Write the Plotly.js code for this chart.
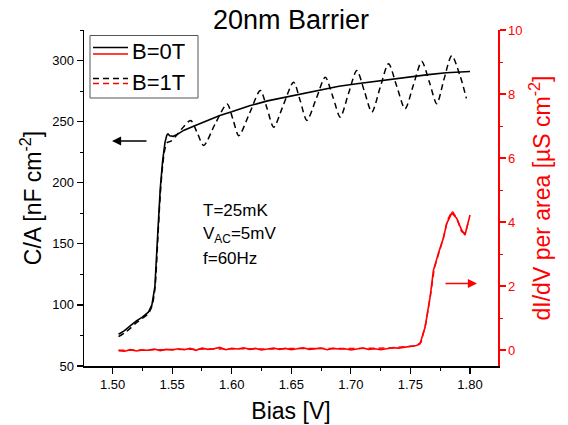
<!DOCTYPE html>
<html>
<head>
<meta charset="utf-8">
<script src="https://cdn.plot.ly/plotly-3.0.1.min.js"></script>
<style>html,body{margin:0;padding:0;background:#fff}#plot{width:568px;height:425px}</style>
</head>
<body>
<div id="plot"></div>
<script>
// C/A, B = 0 T (solid black)
var biasC0 = [1.505,1.510,1.515,1.520,1.525,1.530,1.533,1.5355,1.538,1.540,1.542,1.544,1.5455,1.5465,1.548,1.551,1.555,1.560,1.570,1.580,1.590,1.600,1.615,1.630,1.645,1.660,1.675,1.690,1.705,1.720,1.735,1.750,1.765,1.780,1.790,1.800];
var capC0  = [76,79,83,87,90,94,100,115,160,195,218,233,239,240,238.5,238,240,243,247,251,255,258,263,267,270,273,276,279,281,283,285,287,288.5,290,290.5,291];

// C/A, B = 1 T (dashed black)
var biasC1 = [1.505,1.510,1.515,1.520,1.525,1.530,1.533,1.5355,1.538,1.540,1.542,1.544,1.546,1.549,1.553,1.558,1.5655,1.571,1.5765,1.586,1.5961,1.601,1.6059,1.615,1.624,1.6296,1.6352,1.6435,1.6519,1.6575,1.6631,1.671,1.6785,1.685,1.6911,1.698,1.705,1.7113,1.7176,1.7246,1.7316,1.7385,1.7455,1.7525,1.7595,1.766,1.7721,1.778,1.7847,1.7915,1.797];
var capC1  = [74,77,81,85.5,89,93,99,113,155,190,214,228,233,234,238,244,251,241,230.5,248,264.5,252,238.5,257,275.5,261,245.5,264,282.3,267,251,269,286.4,270,253.7,273,291.8,275,257.8,278,297.3,279,260.5,280,299.2,282,264.6,284,304,288,269];

// dI/dV per area, B = 0 T (solid red)
var biasG0 = [1.505,1.510,1.515,1.520,1.525,1.530,1.535,1.540,1.545,1.550,
              1.555,1.560,1.565,1.570,1.575,1.580,1.585,1.590,1.595,1.600,
              1.605,1.610,1.615,1.620,1.625,1.630,1.635,1.640,1.645,1.650,
              1.655,1.660,1.665,1.670,1.675,1.680,1.685,1.690,1.695,1.700,
              1.705,1.710,1.715,1.720,1.725,1.730,1.735,1.740,1.745,1.750,
              1.755,1.758,1.7623,1.7665,1.7693,1.7735,1.7776,1.7805,1.7847,1.7888,1.793,1.7958,1.7986,1.800];
var condG0 = [-0.02,-0.04,0.01,-0.03,0.00,-0.01,0.03,-0.02,0.02,0.00,
              0.04,0.01,0.05,-0.01,0.06,0.02,0.04,0.08,0.01,0.05,
              0.03,0.07,0.02,0.05,0.00,0.04,0.06,0.02,0.05,0.01,
              0.04,0.07,0.02,0.03,0.06,0.01,0.05,0.03,0.04,0.00,
              0.03,0.06,0.02,0.04,0.01,0.05,0.07,0.06,0.09,0.10,
              0.14,0.19,0.71,1.65,2.49,3.02,3.49,3.96,4.28,4.12,3.75,3.59,3.96,4.22];

// dI/dV per area, B = 1 T (dashed red)
var biasG1 = [1.505,1.530,1.555,1.580,1.605,1.630,1.655,1.680,1.705,1.730,1.755,1.759,1.763,1.767,1.770,1.774,1.778,1.781,1.785,1.789,1.793,1.796,1.799];
var condG1 = [-0.01,0.01,0.02,0.03,0.04,0.03,0.05,0.04,0.05,0.06,0.13,0.25,0.85,1.75,2.55,3.05,3.55,4.05,4.35,4.1,3.7,3.65,4.05];

var F = 'Arial, "Liberation Sans", sans-serif';

var traces = [
  {x: biasC0, y: capC0, type: 'scatter', mode: 'lines', line: {color: '#000', width: 1.6}, yaxis: 'y', showlegend: false, name: 'B=0T'},
  {x: biasC1, y: capC1, type: 'scatter', mode: 'lines', line: {color: '#000', width: 1.5, dash: '6px,4px', shape: 'spline', smoothing: 0.8}, yaxis: 'y', showlegend: false, name: 'B=1T'},
  {x: biasG1, y: condG1, type: 'scatter', mode: 'lines', line: {color: '#ff0000', width: 1.5, dash: '6px,4px'}, yaxis: 'y2', showlegend: false, name: 'B=1T'},
  {x: biasG0, y: condG0, type: 'scatter', mode: 'lines', line: {color: '#ff0000', width: 1.6}, yaxis: 'y2', showlegend: false, name: 'B=0T'}
];

function px(x){ return (x-84)/414; }
function py(y){ return (366-y)/336; }

var shapes = [
  {type:'rect', xref:'paper', yref:'paper', x0:px(90), x1:px(198), y0:py(98), y1:py(35.5), line:{color:'#555', width:1}, fillcolor:'rgba(255,255,255,0)'},
  {type:'line', xref:'paper', yref:'paper', x0:px(93), x1:px(128), y0:py(47.5), y1:py(47.5), line:{color:'#000', width:1.6}},
  {type:'line', xref:'paper', yref:'paper', x0:px(93), x1:px(128), y0:py(54), y1:py(54), line:{color:'#ff0000', width:1.6}},
  {type:'line', xref:'paper', yref:'paper', x0:px(93), x1:px(128), y0:py(78.5), y1:py(78.5), line:{color:'#000', width:1.5, dash:'6px,4px'}},
  {type:'line', xref:'paper', yref:'paper', x0:px(93), x1:px(128), y0:py(83.5), y1:py(83.5), line:{color:'#ff0000', width:1.5, dash:'6px,4px'}}
];

var annotations = [
  {xref:'paper', yref:'paper', x:px(130), y:py(51), xanchor:'left', yanchor:'middle', text:'B=0T', showarrow:false, font:{family:F, size:22, color:'#000'}},
  {xref:'paper', yref:'paper', x:px(130), y:py(82), xanchor:'left', yanchor:'middle', text:'B=1T', showarrow:false, font:{family:F, size:22, color:'#000'}},
  {xref:'paper', yref:'paper', x:px(201), y:py(210), xanchor:'left', yanchor:'middle', text:'T=25mK', showarrow:false, font:{family:F, size:17, color:'#000'}},
  {xref:'paper', yref:'paper', x:px(201), y:py(235), xanchor:'left', yanchor:'middle', text:'V<sub>AC</sub>=5mV', showarrow:false, font:{family:F, size:17, color:'#000'}},
  {xref:'paper', yref:'paper', x:px(201), y:py(258), xanchor:'left', yanchor:'middle', text:'f=60Hz', showarrow:false, font:{family:F, size:17, color:'#000'}},
  {xref:'paper', yref:'paper', x:px(112), y:py(141), ax:36, ay:0, text:'', showarrow:true, arrowhead:2, arrowsize:1.3, arrowwidth:1.4, arrowcolor:'#000', standoff:0},
  {xref:'paper', yref:'paper', x:px(477), y:py(283.5), ax:-33, ay:0, text:'', showarrow:true, arrowhead:2, arrowsize:1.3, arrowwidth:1.4, arrowcolor:'#ff0000', standoff:0}
];

var layout = {
  width: 568, height: 425,
  margin: {l: 84, r: 70, t: 30, b: 59},
  paper_bgcolor: '#fff', plot_bgcolor: '#fff',
  font: {family: F, color: '#000'},
  title: {text: '20nm Barrier', font: {family: F, size: 27, color: '#000'}, xref: 'paper', x: 0.5, xanchor: 'center', y: 0.955, yanchor: 'middle'},
  xaxis: {
    range: [1.476, 1.8235], showgrid: false, zeroline: false,
    showline: true, linecolor: '#000', linewidth: 1.5,
    ticks: 'outside', ticklen: 6, tickwidth: 1.2, tickcolor: '#000',
    tickvals: [1.50,1.55,1.60,1.65,1.70,1.75,1.80], ticktext: ['1.50','1.55','1.60','1.65','1.70','1.75','1.80'],
    tickfont: {family: F, size: 13, color: '#000'},
    minor: {tickvals: [1.475,1.525,1.575,1.625,1.675,1.725,1.775,1.825], ticks: 'outside', ticklen: 3, tickwidth: 1, tickcolor: '#000'},
    title: {text: 'Bias [V]', font: {family: F, size: 23, color: '#000'}, standoff: 12}
  },
  yaxis: {
    range: [50, 325], showgrid: false, zeroline: false,
    showline: true, linecolor: '#000', linewidth: 1.5,
    ticks: 'outside', ticklen: 6, tickwidth: 1.2, tickcolor: '#000',
    tickvals: [50,100,150,200,250,300],
    tickfont: {family: F, size: 13, color: '#000'},
    minor: {tickvals: [75,125,175,225,275,325], ticks: 'outside', ticklen: 3, tickwidth: 1, tickcolor: '#000'},
    title: {text: 'C/A [nF cm<sup>-2</sup>]', font: {family: F, size: 23, color: '#000'}, standoff: 4}
  },
  yaxis2: {
    overlaying: 'y', side: 'right', anchor: 'x',
    range: [-0.5, 10], showgrid: false, zeroline: false,
    showline: true, linecolor: '#ff0000', linewidth: 1.5,
    ticks: 'outside', ticklen: 6, tickwidth: 1.2, tickcolor: '#ff0000',
    tickvals: [0,2,4,6,8,10],
    tickfont: {family: F, size: 13, color: '#ff0000'},
    minor: {tickvals: [1,3,5,7,9], ticks: 'outside', ticklen: 3, tickwidth: 1, tickcolor: '#ff0000'},
    title: {text: 'dI/dV per area [\u00b5S cm<sup>-2</sup>]', font: {family: F, size: 23, color: '#ff0000'}, standoff: 12}
  },
  shapes: shapes,
  annotations: annotations,
  showlegend: false
};

Plotly.newPlot('plot', traces, layout, {displayModeBar: false, staticPlot: true});
</script>
</body>
</html>
